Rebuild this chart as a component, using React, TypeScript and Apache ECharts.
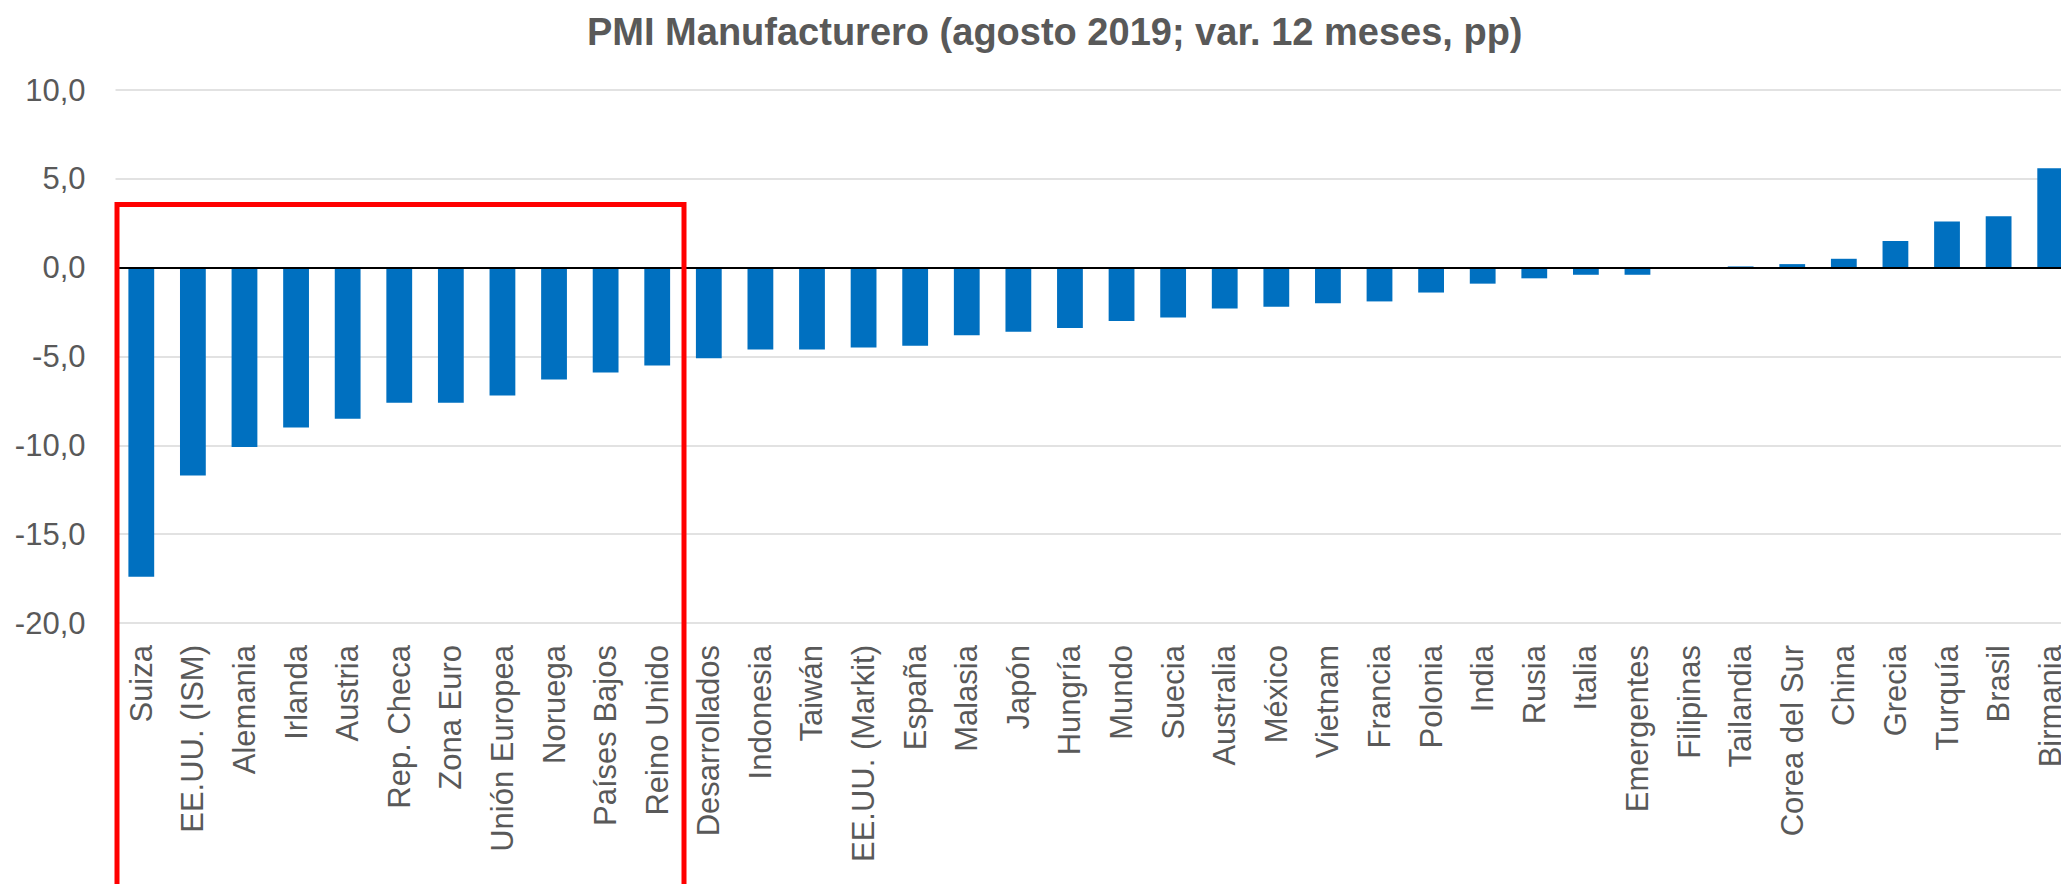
import React, { useEffect, useRef } from "react";
import * as echarts from "echarts";

const titleText = "PMI Manufacturero (agosto 2019; var. 12 meses, pp)";

const categories = [
  "Suiza", "EE.UU. (ISM)", "Alemania", "Irlanda", "Austria", "Rep. Checa",
  "Zona Euro", "Unión Europea", "Noruega", "Países Bajos", "Reino Unido",
  "Desarrollados", "Indonesia", "Taiwán", "EE.UU. (Markit)", "España",
  "Malasia", "Japón", "Hungría", "Mundo", "Suecia", "Australia", "México",
  "Vietnam", "Francia", "Polonia", "India", "Rusia", "Italia", "Emergentes",
  "Filipinas", "Tailandia", "Corea del Sur", "China", "Grecia", "Turquía",
  "Brasil", "Birmania",
];

const values = [
  -17.4, -11.7, -10.1, -9.0, -8.5, -7.6,
  -7.6, -7.2, -6.3, -5.9, -5.5,
  -5.1, -4.6, -4.6, -4.5, -4.4,
  -3.8, -3.6, -3.4, -3.0, -2.8, -2.3, -2.2,
  -2.0, -1.9, -1.4, -0.9, -0.6, -0.4, -0.4,
  0.0, 0.07, 0.2, 0.5, 1.5, 2.6,
  2.9, 5.6,
];

const yMin = -20;
const yMax = 10;
const yStep = 5;

export default function App() {
  const ref = useRef<HTMLDivElement>(null);

  useEffect(() => {
    if (!ref.current) return;
    const chart = echarts.init(ref.current, null, { renderer: "svg" });
    const font = "'Liberation Sans', Arial, Helvetica, sans-serif";
    chart.setOption({
      animation: false,
      backgroundColor: "#ffffff",
      title: {
        text: titleText,
        left: 582,
        top: 8,
        textStyle: {
          fontFamily: font,
          fontWeight: "bold",
          fontSize: 38,
          color: "#595959",
        },
      },
      grid: {
        left: 115.5,
        right: -15,
        top: 90,
        bottom: 261,
        containLabel: false,
        outerBoundsMode: "none",
      },
      xAxis: {
        type: "category",
        data: categories,
        axisLine: { show: false, onZero: false },
        axisTick: { show: false },
        axisLabel: {
          rotate: 90,
          interval: 0,
          margin: 22,
          fontFamily: font,
          fontSize: 31,
          color: "#595959",
        },
        splitLine: { show: false },
      },
      yAxis: {
        type: "value",
        min: yMin,
        max: yMax,
        interval: yStep,
        axisLine: { show: false },
        axisTick: { show: false },
        axisLabel: {
          margin: 30,
          fontFamily: font,
          fontSize: 31,
          color: "#595959",
          formatter: (v: number) => v.toFixed(1).replace(".", ","),
        },
        splitLine: { show: true, lineStyle: { color: "#d9d9d9", width: 1.5 } },
      },
      series: [
        {
          type: "bar",
          data: values,
          barCategoryGap: "50%",
          itemStyle: { color: "#0070C0" },
          markLine: {
            silent: true,
            symbol: ["none", "none"],
            label: { show: false },
            lineStyle: { color: "#000000", width: 2, type: "solid" },
            data: [{ yAxis: 0 }],
          },
        },
      ],
      graphic: [
        {
          type: "rect",
          shape: { x: 117, y: 204.5, width: 567, height: 720 },
          style: { fill: "none", stroke: "#ff0000", lineWidth: 5 },
          z: 100,
        },
      ],
    });
    return () => chart.dispose();
  }, []);

  return (
    <div
      ref={ref}
      style={{ position: "fixed", left: 0, top: 0, width: 2061, height: 884 }}
    />
  );
}
